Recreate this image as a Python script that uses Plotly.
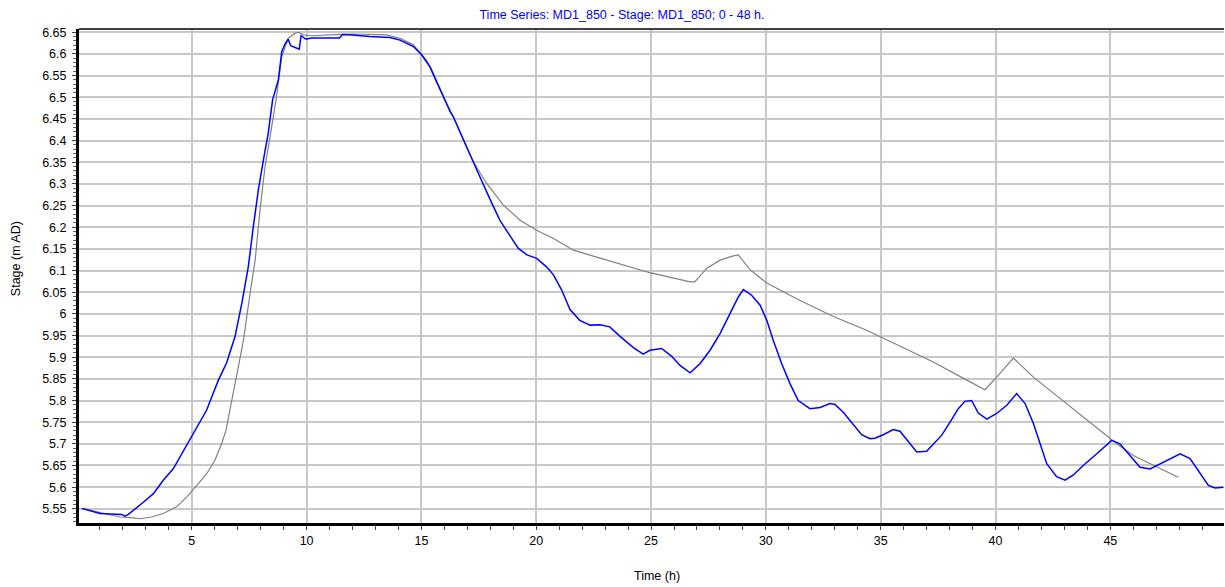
import plotly.graph_objects as go

# Simulated stage (blue) and reference stage (gray) at MD1_850, hours vs m AD
sim_time = [0.21, 1.0, 1.95, 2.09, 2.24, 2.46, 2.89, 3.33, 3.76, 4.2, 4.56, 5.0, 5.36, 5.65,
            5.9, 6.16, 6.52, 6.88, 7.18, 7.46, 7.68, 7.9, 8.12, 8.33, 8.52, 8.77, 8.92, 9.06,
            9.2, 9.31, 9.68, 9.76, 9.97, 10.22, 11.43, 11.57, 11.97, 12.76, 13.63, 14.07,
            14.65, 15.01, 15.38, 15.81, 16.25, 16.39, 16.83, 17.26, 17.55, 18.0, 18.42, 18.79,
            19.22, 19.6, 20.02, 20.46, 20.75, 21.11, 21.47, 21.9, 22.34, 22.78, 23.2, 23.65,
            24.23, 24.66, 24.95, 25.46, 25.9, 26.26, 26.7, 27.13, 27.57, 28.0, 28.44, 28.8,
            29.02, 29.38, 29.75, 30.04, 30.32, 30.69, 31.05, 31.41, 31.92, 32.36, 32.79, 33.01,
            33.37, 33.81, 34.17, 34.53, 34.75, 35.11, 35.55, 35.84, 36.28, 36.57, 37.0, 37.44,
            37.66, 38.02, 38.38, 38.67, 38.96, 39.25, 39.62, 40.05, 40.49, 40.92, 41.29, 41.65,
            41.94, 42.23, 42.66, 43.03, 43.39, 43.82, 44.41, 45.06, 45.42, 45.86, 46.29, 46.73,
            47.16, 47.6, 48.04, 48.47, 48.9, 49.27, 49.56, 49.92]
sim_stage = [5.551, 5.539, 5.537, 5.533, 5.537, 5.546, 5.565, 5.585, 5.616, 5.643, 5.677, 5.718,
             5.752, 5.778, 5.812, 5.847, 5.887, 5.947, 6.024, 6.108, 6.201, 6.286, 6.355, 6.417,
             6.494, 6.540, 6.605, 6.623, 6.634, 6.619, 6.611, 6.642, 6.634, 6.637, 6.637, 6.645,
             6.644, 6.640, 6.638, 6.632, 6.617, 6.598, 6.570, 6.520, 6.467, 6.455, 6.401, 6.351,
             6.316, 6.263, 6.216, 6.186, 6.151, 6.136, 6.128, 6.108, 6.090, 6.055, 6.010, 5.985,
             5.974, 5.975, 5.970, 5.948, 5.922, 5.907, 5.916, 5.920, 5.902, 5.881, 5.864, 5.885,
             5.916, 5.954, 6.000, 6.039, 6.056, 6.043, 6.020, 5.985, 5.939, 5.885, 5.839, 5.800,
             5.781, 5.784, 5.793, 5.791, 5.773, 5.743, 5.721, 5.712, 5.713, 5.721, 5.733, 5.729,
             5.700, 5.681, 5.683, 5.708, 5.720, 5.750, 5.781, 5.798, 5.800, 5.771, 5.757, 5.770,
             5.789, 5.816, 5.793, 5.747, 5.700, 5.654, 5.624, 5.616, 5.628, 5.650, 5.677, 5.708,
             5.700, 5.673, 5.646, 5.642, 5.654, 5.666, 5.677, 5.666, 5.631, 5.604, 5.598, 5.600]

ref_time = [0.21, 1.15, 1.88, 2.46, 2.75, 3.26, 3.76, 4.35, 4.78, 5.22, 5.65, 6.01, 6.3, 6.49,
            6.81, 7.25, 7.54, 7.76, 7.97, 8.19, 8.41, 8.67, 8.92, 9.2, 9.5, 9.64, 9.86, 10.2,
            11.46, 12.0, 13.49, 14.07, 14.65, 15.23, 15.81, 16.39, 16.83, 17.26, 17.84, 18.57,
            19.3, 20.02, 20.75, 21.62, 22.63, 23.65, 24.95, 26.7, 26.9, 27.42, 28.0, 28.58,
            28.8, 29.31, 30.04, 31.49, 32.94, 34.39, 35.84, 37.29, 38.75, 39.54, 40.05, 40.78,
            41.65, 43.1, 44.55, 45.28, 46.0, 46.87, 47.96]
ref_stage = [5.551, 5.539, 5.531, 5.529, 5.527, 5.531, 5.539, 5.555, 5.577, 5.604, 5.631, 5.662,
             5.700, 5.731, 5.816, 5.939, 6.047, 6.124, 6.239, 6.339, 6.409, 6.494, 6.594, 6.636,
             6.648, 6.650, 6.644, 6.642, 6.645, 6.646, 6.644, 6.636, 6.621, 6.585, 6.517, 6.455,
             6.401, 6.351, 6.301, 6.251, 6.216, 6.193, 6.174, 6.147, 6.131, 6.115, 6.095, 6.074,
             6.074, 6.105, 6.124, 6.134, 6.136, 6.102, 6.071, 6.031, 5.994, 5.962, 5.925, 5.889,
             5.847, 5.825, 5.854, 5.898, 5.854, 5.793, 5.731, 5.700, 5.673, 5.650, 5.623]

x_tickvals = [5, 10, 15, 20, 25, 30, 35, 40, 45]
x_ticktext = ["5", "10", "15", "20", "25", "30", "35", "40", "45"]
y_tickvals = [5.55, 5.6, 5.65, 5.7, 5.75, 5.8, 5.85, 5.9, 5.95, 6.0, 6.05, 6.1,
              6.15, 6.2, 6.25, 6.3, 6.35, 6.4, 6.45, 6.5, 6.55, 6.6, 6.65]
y_ticktext = ["5.55", "5.6", "5.65", "5.7", "5.75", "5.8", "5.85", "5.9", "5.95", "6", "6.05",
              "6.1", "6.15", "6.2", "6.25", "6.3", "6.35", "6.4", "6.45", "6.5", "6.55", "6.6",
              "6.65"]

FONT = "Liberation Sans, Arial, sans-serif"
FS = 12.5
GRID = "#c8c8c8"

fig = go.Figure()
fig.add_trace(go.Scatter(x=ref_time, y=ref_stage, mode="lines",
                         line=dict(color="#808080", width=1.2), showlegend=False))
fig.add_trace(go.Scatter(x=sim_time, y=sim_stage, mode="lines",
                         line=dict(color="#0000ff", width=1.5), showlegend=False))

fig.update_layout(
    width=1225, height=587,
    margin=dict(l=79, r=1, t=29, b=64),
    paper_bgcolor="white", plot_bgcolor="white",
    font=dict(family=FONT, size=FS, color="black"),
    title=dict(text="Time Series: MD1_850 - Stage: MD1_850; 0 - 48 h.",
               x=622 / 1225, xanchor="center", xref="container",
               y=1 - 15 / 587, yanchor="middle", yref="container",
               font=dict(family=FONT, size=FS, color="#0000ff")),
    xaxis=dict(range=[0.09, 49.95], tickvals=x_tickvals, ticktext=x_ticktext,
               showgrid=True, gridcolor=GRID, gridwidth=1.5, zeroline=False,
               showline=True, linecolor="black", linewidth=3,
               ticks="outside", ticklen=4, tickwidth=1, tickcolor="#444",
               ticklabelstandoff=0,
               minor=dict(dtick=1, tick0=0, ticks="outside", ticklen=4, tickwidth=1,
                          tickcolor="#444", showgrid=False)),
    yaxis=dict(range=[5.5172, 6.6576], tickvals=y_tickvals, ticktext=y_ticktext,
               showgrid=True, gridcolor=GRID, gridwidth=1.5, zeroline=False,
               showline=True, linecolor="black", linewidth=3,
               ticks="outside", ticklen=4, tickwidth=1, tickcolor="#444",
               ticklabelstandoff=3,
               minor=dict(dtick=0.01, tick0=5.5, ticks="outside", ticklen=3, tickwidth=1,
                          tickcolor="#666", showgrid=False)),
    shapes=[dict(type="line", xref="paper", yref="paper", x0=0, x1=1, y0=1, y1=1,
                 line=dict(color="black", width=1.5))],
    annotations=[
        dict(text="Stage (m AD)", xref="paper", yref="paper",
             x=(16 - 79) / 1145, y=(522.7 - 259) / 493.7, textangle=-90,
             showarrow=False, xanchor="center", yanchor="middle",
             font=dict(family=FONT, size=FS, color="black")),
        dict(text="Time (h)", xref="paper", yref="paper",
             x=(657 - 79) / 1145, y=(522.7 - 576) / 493.7,
             showarrow=False, xanchor="center", yanchor="middle",
             font=dict(family=FONT, size=FS, color="black")),
    ],
)

fig.write_html("out.html")
